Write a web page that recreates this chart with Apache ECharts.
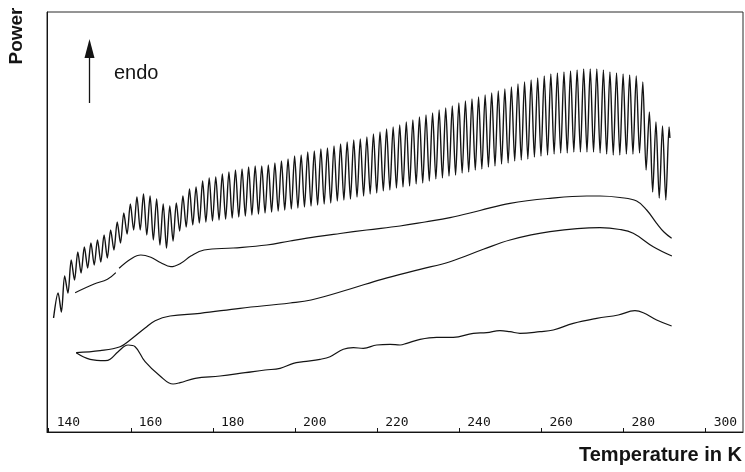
<!DOCTYPE html>
<html>
<head>
<meta charset="utf-8">
<script src="https://cdn.jsdelivr.net/npm/echarts@6/dist/echarts.min.js"></script>
<style>html,body{margin:0;padding:0;background:#fff;}#c{width:745px;height:472px;}</style>
</head>
<body>
<div id="c"></div>
<script>
// Temperature tick labels (K)
const tempTicks = [140, 160, 180, 200, 220, 240, 260, 280, 300];

// Modulated (oscillating) trace: start, peaks, troughs, end  [T in K, power a.u.]
const modStart = [141.2, 11.4];
const peakT = [142.3,143.9,145.5,147.1,148.7,150.3,151.9,153.5,155.1,156.7,
158.3,159.9,161.5,163.1,164.7,166.3,167.9,169.5,171.1,172.7,
174.3,175.9,177.5,179.1,180.7,182.3,183.9,185.5,187.1,188.7,
190.3,191.9,193.5,195.1,196.7,198.3,199.9,201.5,203.1,204.7,
206.3,207.9,209.5,211.1,212.7,214.3,215.9,217.5,219.1,220.7,
222.3,223.9,225.5,227.1,228.7,230.3,231.9,233.5,235.1,236.7,
238.3,239.9,241.5,243.1,244.7,246.3,247.9,249.5,251.1,252.7,
254.3,255.9,257.5,259.1,260.7,262.3,263.9,265.5,267.1,268.7,
270.3,271.9,273.5,275.1,276.7,278.3,279.9,281.5,283.1,284.7,
286.3,287.9,289.5,291.1];
const peakP = [13.9,15.6,17.2,18.0,18.5,18.9,19.2,19.7,20.2,21.0,
21.9,22.8,23.5,23.8,23.6,23.3,22.8,22.6,22.9,23.6,
24.3,24.5,25.1,25.4,25.5,25.8,26.0,26.2,26.3,26.5,
26.6,26.6,26.7,26.9,27.1,27.3,27.6,27.7,28.0,28.1,
28.3,28.4,28.6,28.8,29.0,29.2,29.3,29.5,29.8,30.0,
30.3,30.5,30.7,31.0,31.2,31.5,31.7,31.9,32.2,32.4,
32.6,32.9,33.1,33.3,33.5,33.7,33.9,34.1,34.3,34.5,
34.8,35.0,35.2,35.4,35.6,35.8,35.9,36.0,36.1,36.2,
36.3,36.3,36.3,36.2,36.0,35.9,35.8,35.7,35.6,35.0,
32.0,31.0,30.6,30.5];
const troughT = [143.1,144.7,146.3,147.9,149.5,151.1,152.7,154.3,155.9,157.5,
159.1,160.7,162.3,163.9,165.5,167.1,168.7,170.3,171.9,173.5,
175.1,176.7,178.3,179.9,181.5,183.1,184.7,186.3,187.9,189.5,
191.1,192.7,194.3,195.9,197.5,199.1,200.7,202.3,203.9,205.5,
207.1,208.7,210.3,211.9,213.5,215.1,216.7,218.3,219.9,221.5,
223.1,224.7,226.3,227.9,229.5,231.1,232.7,234.3,235.9,237.5,
239.1,240.7,242.3,243.9,245.5,247.1,248.7,250.3,251.9,253.5,
255.1,256.7,258.3,259.9,261.5,263.1,264.7,266.3,267.9,269.5,
271.1,272.7,274.3,275.9,277.5,279.1,280.7,282.3,283.9,285.5,
287.1,288.7,290.3];
const troughP = [12.0,13.9,15.2,15.9,16.4,16.7,17.0,17.4,18.2,18.9,
19.8,20.2,20.2,19.7,19.2,18.7,18.4,19.1,20.1,20.5,
20.7,20.9,21.0,21.1,21.2,21.3,21.4,21.5,21.6,21.7,
21.8,21.9,22.0,22.1,22.2,22.3,22.4,22.5,22.6,22.7,
22.8,22.9,23.1,23.2,23.3,23.5,23.6,23.8,23.9,24.1,
24.2,24.4,24.5,24.6,24.8,24.9,25.1,25.3,25.4,25.6,
25.7,25.9,26.0,26.2,26.3,26.5,26.6,26.8,26.9,27.1,
27.2,27.3,27.5,27.6,27.7,27.8,27.9,27.9,28.0,28.0,
28.0,28.0,27.9,27.8,27.7,27.7,27.8,27.8,27.9,26.2,
24.0,23.4,23.2];
const modEnd = [291.3, 29.4];

// Upper smooth trace (null = gap in the trace)
const curveA_T = [146.45,151.08,154.32,156.36,156.8,157.16,160.01,162.45,164.88,167.32,169.75,172.19,174.62,177.86,184.92,193.12,198.8,205.3,210.97,217.47,225.58,231.66,237.75,245.05,252.36,262.1,271.03,274.27,279.14,283.2,285.64,288.07,289.85,291.72];
const curveA_P = [13.93,14.8,15.27,15.93,null,16.37,17.3,17.7,17.47,16.93,16.53,16.87,17.6,18.2,18.4,18.7,19.1,19.53,19.85,20.2,20.6,21.0,21.43,22.15,22.87,23.37,23.6,23.6,23.45,23.1,22.2,20.87,20.0,19.37];

// Middle smooth trace
const curveB_T = [146.7,152.54,157.41,159.84,163.49,165.93,169.58,176.88,186.62,198.8,203.91,213.4,221.12,230.45,237.75,245.86,252.36,262.1,274.27,279.14,282.37,287.24,291.79];
const curveB_P = [7.93,8.13,8.53,9.2,10.4,11.13,11.6,11.87,12.37,12.9,13.2,14.3,15.27,16.26,17.03,18.27,19.2,20.03,20.43,20.25,19.87,18.53,17.6];

// Lower smooth trace
const curveC_T = [146.7,150.1,153.76,154.97,156.92,159.35,161.06,163.49,167.14,170.31,172.01,175.67,181.75,187.84,192.71,196.36,199.6,202.03,206.1,208.53,211.77,214.21,216.64,219.9,223.14,225.58,227.21,230.45,234.51,238.55,243.42,246.68,249.92,252.36,254.79,259.66,262.9,267.77,273.46,278.72,282.79,284.81,288.07,291.72];
const curveC_P = [7.93,7.27,7.13,7.27,8.03,8.7,8.53,7.03,5.6,4.8,4.93,5.37,5.6,5.93,6.2,6.37,6.87,7.03,7.27,7.53,8.27,8.43,8.37,8.7,8.77,8.7,8.87,9.27,9.47,9.47,9.87,9.93,10.13,10.03,9.87,10.03,10.2,10.87,11.37,11.7,12.13,11.93,11.2,10.6];

function zip(xs, ys) { return xs.map((x, i) => [x, ys[i]]); }
const modData = [modStart];
for (let i = 0; i < peakT.length; i++) {
  modData.push([peakT[i], peakP[i]]);
  if (i < troughT.length) modData.push([troughT[i], troughP[i]]);
}
modData.push(modEnd);

const ink = '#141414';
const chart = echarts.init(document.getElementById('c'), null, {renderer: 'canvas'});
chart.setOption({
  animation: false,
  backgroundColor: '#fff',
  grid: {left: 47, right: 2, top: 12, bottom: 40, show: true, borderColor: '#2a2a2a', borderWidth: 1},
  xAxis: {
    type: 'value', min: 139.6, max: 309.1,
    splitLine: {show: false},
    axisLine: {show: true, lineStyle: {color: ink, width: 1}},
    axisTick: {show: true, inside: true, length: 4, customValues: tempTicks, lineStyle: {color: ink}},
    axisLabel: {show: true, inside: true, margin: 2, customValues: tempTicks, align: 'left', padding: [0, 0, 0, 8],
      color: ink, fontFamily: 'DejaVu Sans Mono', fontSize: 13, lineHeight: 14}
  },
  yAxis: {
    type: 'value', min: 0, max: 42,
    splitLine: {show: false},
    axisLine: {show: true, lineStyle: {color: ink}},
    axisTick: {show: false}, axisLabel: {show: false}
  },
  series: [
    {type: 'line', name: 'modulated', data: modData, showSymbol: false, smooth: 0.3,
      lineStyle: {color: ink, width: 1.4}},
    {type: 'line', name: 'upper', data: zip(curveA_T, curveA_P), showSymbol: false, smooth: 0.4, connectNulls: false,
      lineStyle: {color: ink, width: 1.2}},
    {type: 'line', name: 'middle', data: zip(curveB_T, curveB_P), showSymbol: false, smooth: 0.4,
      lineStyle: {color: ink, width: 1.2}},
    {type: 'line', name: 'lower', data: zip(curveC_T, curveC_P), showSymbol: false, smooth: 0.4,
      lineStyle: {color: ink, width: 1.2}}
  ],
  graphic: [
    {type: 'line', shape: {x1: 89.5, y1: 103, x2: 89.5, y2: 55}, style: {stroke: ink, lineWidth: 1.3}},
    {type: 'polygon', shape: {points: [[89.5, 39], [84.5, 58], [94.5, 58]]}, style: {fill: ink}},
    {type: 'text', x: 114, y: 73, style: {text: 'endo', font: '20px "Liberation Sans"', fill: ink, align: 'left', verticalAlign: 'middle'}},
    {type: 'text', x: 17, y: 36, rotation: Math.PI / 2, style: {text: 'Power', font: 'bold 19px "Liberation Sans"', fill: ink, align: 'center', verticalAlign: 'middle'}},
    {type: 'text', x: 742, y: 455, style: {text: 'Temperature in K', font: 'bold 20px "Liberation Sans"', fill: ink, align: 'right', verticalAlign: 'middle'}}
  ]
});
</script>
</body>
</html>
